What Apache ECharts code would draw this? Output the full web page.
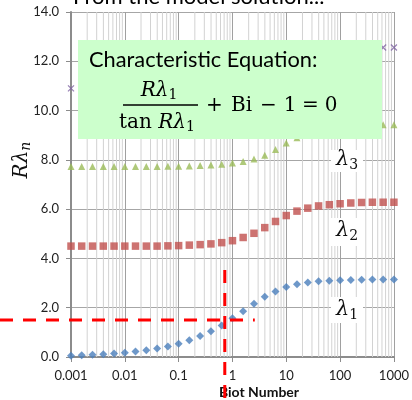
<!DOCTYPE html>
<html>
<head>
<meta charset="utf-8">
<script src="https://cdn.jsdelivr.net/npm/echarts@6/dist/echarts.min.js"></script>
<style>
  html, body { margin: 0; padding: 0; background: #fff; }
  #chart { width: 412px; height: 400px; }
</style>
</head>
<body>
<div id="chart"></div>
<script>
// Biot numbers (5 per decade) and the first four eigenvalues R*lambda_n
const biot = [0.001, 0.00158, 0.00251, 0.00398, 0.00631, 0.01, 0.0158, 0.0251, 0.0398, 0.0631,
  0.1, 0.158, 0.251, 0.398, 0.631, 1, 1.58, 2.51, 3.98, 6.31,
  10, 15.8, 25.1, 39.8, 63.1, 100, 158, 251, 398, 631, 1000]
const lambda1 = [0.05, 0.07, 0.09, 0.11, 0.14, 0.17, 0.22, 0.27, 0.35, 0.43,
  0.54, 0.68, 0.85, 1.05, 1.28, 1.57, 1.86, 2.16, 2.44, 2.66,
  2.84, 2.95, 3.02, 3.07, 3.09, 3.11, 3.12, 3.13, 3.14, 3.14, 3.14]
const lambda2 = [4.50, 4.50, 4.50, 4.50, 4.50, 4.50, 4.50, 4.50, 4.50, 4.51,
  4.52, 4.54, 4.56, 4.59, 4.64, 4.72, 4.85, 5.02, 5.25, 5.50,
  5.74, 5.92, 6.04, 6.13, 6.18, 6.22, 6.25, 6.27, 6.28, 6.28, 6.28]
const lambda3 = [7.73, 7.73, 7.73, 7.73, 7.73, 7.73, 7.73, 7.73, 7.73, 7.74,
  7.74, 7.75, 7.77, 7.79, 7.82, 7.87, 7.93, 8.03, 8.19, 8.42,
  8.68, 8.90, 9.10, 9.23, 9.31, 9.35, 9.38, 9.40, 9.41, 9.42, 9.42]
const lambda4 = [10.90, 10.90, 10.90, 10.90, 10.90, 10.90, 10.90, 10.90, 10.90, 10.91,
  10.91, 10.92, 10.93, 10.94, 10.96, 11.00, 11.04, 11.11, 11.22, 11.39,
  11.63, 11.92, 12.17, 12.33, 12.43, 12.49, 12.52, 12.54, 12.55, 12.56, 12.56]
const xTickLabels = ['0.001', '0.01', '0.1', '1', '10', '100', '1000']
// the marked reading: Bi ~ 0.72 gives R*lambda1 ~ 1.5
const markBi = 0.72
const markLambda = 1.5

const minorX = []
for (let e = -3; e < 3; e++) {
  for (let m = 2; m <= 9; m++) minorX.push(+(m * Math.pow(10, e)).toPrecision(3))
}

const pts = arr => biot.map((b, i) => [b, arr[i]])
const serif = '"DejaVu Serif", "Liberation Serif", serif'
const sans = 'Lato, "Open Sans", sans-serif'

const chart = echarts.init(document.getElementById('chart'))
chart.setOption({
  animation: false,
  backgroundColor: '#fff',
  grid: { left: 71, right: 13, top: 12, bottom: 43 },
  xAxis: {
    type: 'log',
    logBase: 10,
    min: 0.001,
    max: 1000,
    axisLine: { lineStyle: { color: '#8c8c8c', width: 2 } },
    axisTick: { show: true, length: 5, lineStyle: { color: '#8c8c8c' } },
    axisLabel: {
      color: '#222', fontFamily: sans, fontSize: 13, margin: 12,
      formatter: v => xTickLabels[Math.round(Math.log10(v)) + 3]
    },
    splitLine: { show: true, lineStyle: { color: '#a0a0a0', width: 1 } },
    minorSplitLine: { show: false }
  },
  yAxis: {
    type: 'value',
    min: 0,
    max: 14,
    interval: 2,
    axisLine: { show: true, lineStyle: { color: '#8c8c8c', width: 2 } },
    axisTick: { show: true, length: 5, lineStyle: { color: '#8c8c8c' } },
    axisLabel: {
      color: '#222', fontFamily: sans, fontSize: 13, margin: 12,
      formatter: v => v.toFixed(1)
    },
    splitLine: { show: true, lineStyle: { color: '#a6a6a6', width: 1 } }
  },
  series: [
    {
      type: 'custom',
      silent: true,
      z: 1,
      data: minorX.map(v => [v, 0]),
      renderItem: (params, api) => {
        const top = api.coord([api.value(0), 14])
        const bot = api.coord([api.value(0), 0])
        return {
          type: 'line',
          shape: { x1: top[0], y1: top[1], x2: bot[0], y2: bot[1] },
          style: { stroke: '#d2d2d2', lineWidth: 1 }
        }
      }
    },
    {
      name: 'lambda4', type: 'scatter', z: 3,
      symbol: 'path://M0,0L10,10M10,0L0,10', symbolSize: 6,
      itemStyle: { color: 'transparent', borderColor: '#8064A2', borderWidth: 1.3 },
      data: pts(lambda4)
    },
    {
      name: 'lambda3', type: 'scatter', z: 3,
      symbol: 'triangle', symbolSize: 7,
      itemStyle: { color: '#9BBB59' },
      data: pts(lambda3)
    },
    {
      name: 'lambda2', type: 'scatter', z: 3,
      symbol: 'rect', symbolSize: 7.5,
      itemStyle: { color: '#C0504D' },
      data: pts(lambda2)
    },
    {
      name: 'lambda1', type: 'scatter', z: 3,
      symbol: 'diamond', symbolSize: 8,
      itemStyle: { color: '#4A7EBB' },
      data: pts(lambda1)
    }
  ]
})

// annotation overlays
const pMark = chart.convertToPixel({ gridIndex: 0 }, [markBi, markLambda])
const pEndH = chart.convertToPixel({ gridIndex: 0 }, [2.6, markLambda])
const pTopV = chart.convertToPixel({ gridIndex: 0 }, [markBi, 3.53])
const red = { stroke: '#ff0000', lineWidth: 3, lineDash: [13, 10] }
const lamLabel = (sub, x, y, boxY, boxH) => ([
  { type: 'rect', z: 90, shape: { x: 331, y: boxY, width: 32, height: boxH }, style: { fill: '#fff' } },
  {
    type: 'text', z: 91, x: x, y: y,
    style: {
      text: '{l|λ}{s|' + sub + '}', align: 'center', verticalAlign: 'middle',
      rich: {
        l: { fontFamily: serif, fontStyle: 'italic', fontSize: 21, fill: '#111' },
        s: { fontFamily: serif, fontSize: 14, fill: '#111', padding: [10, 0, 0, 0] }
      }
    }
  }
])

chart.setOption({
  graphic: [
    {
      type: 'text', z: 100, x: 73, y: 8,
      style: { text: 'From the model solution...', fontFamily: sans, fontSize: 22, fill: '#000', verticalAlign: 'bottom' }
    },
    { type: 'rect', z: 95, shape: { x: 78, y: 40, width: 304, height: 99 }, style: { fill: '#CCFFCC' } },
    {
      type: 'text', z: 100, x: 89, y: 60,
      style: { text: 'Characteristic Equation:', fontFamily: sans, fontSize: 21.8, fill: '#000', verticalAlign: 'middle' }
    },
    {
      type: 'text', z: 100, x: 159, y: 91,
      style: {
        text: '{i|Rλ}{s|1}', align: 'center', verticalAlign: 'middle',
        rich: {
          i: { fontFamily: serif, fontStyle: 'italic', fontSize: 20, fill: '#000' },
          s: { fontFamily: serif, fontSize: 14, fill: '#000', padding: [9, 0, 0, 0] }
        }
      }
    },
    { type: 'line', z: 100, shape: { x1: 123, y1: 105, x2: 198, y2: 105 }, style: { stroke: '#000', lineWidth: 1.5 } },
    {
      type: 'text', z: 100, x: 157, y: 123,
      style: {
        text: '{r|tan }{i|Rλ}{s|1}', align: 'center', verticalAlign: 'middle',
        rich: {
          r: { fontFamily: serif, fontSize: 20, fill: '#000' },
          i: { fontFamily: serif, fontStyle: 'italic', fontSize: 20, fill: '#000' },
          s: { fontFamily: serif, fontSize: 14, fill: '#000', padding: [9, 0, 0, 0] }
        }
      }
    },
    ...[['+', 214.5], ['Bi', 241.5], ['−', 268.5], ['1', 290], ['=', 310.5], ['0', 331]].map(([t, x]) => ({
      type: 'text', z: 100, x: x, y: 106,
      style: { text: t, fontFamily: serif, fontSize: 20, fill: '#000', align: 'center', verticalAlign: 'middle' }
    })),
    ...lamLabel('3', 347, 160, 150, 22),
    ...lamLabel('2', 347, 231, 218, 28),
    ...lamLabel('1', 347, 310, 297, 26),
    {
      type: 'text', z: 100, x: 22, y: 160, rotation: Math.PI / 2,
      style: {
        text: '{i|Rλ}{s|n}', align: 'center', verticalAlign: 'middle',
        rich: {
          i: { fontFamily: serif, fontStyle: 'italic', fontSize: 20, fill: '#111' },
          s: { fontFamily: serif, fontStyle: 'italic', fontSize: 14, fill: '#111', padding: [9, 0, 0, 0] }
        }
      }
    },
    {
      type: 'text', z: 100, x: 259, y: 392,
      style: { text: 'Biot Number', fontFamily: sans, fontWeight: 'bold', fontSize: 14, fill: '#111', align: 'center', verticalAlign: 'middle' }
    },
    { type: 'line', z: 110, shape: { x1: 0, y1: pMark[1], x2: pEndH[0], y2: pMark[1] }, style: red },
    { type: 'line', z: 110, shape: { x1: pMark[0], y1: pTopV[1], x2: pMark[0], y2: 400 }, style: red }
  ]
})
</script>
</body>
</html>
